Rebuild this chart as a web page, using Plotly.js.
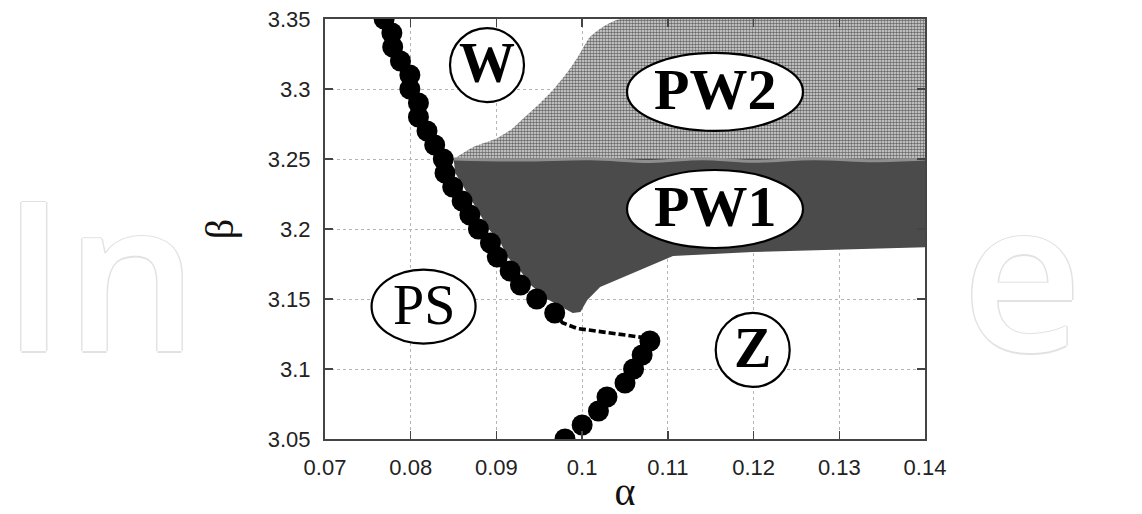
<!DOCTYPE html>
<html>
<head>
<meta charset="utf-8">
<script src="https://cdn.plot.ly/plotly-3.0.1.min.js"></script>
<style>html,body{margin:0;padding:0;background:#fff;}</style>
</head>
<body>
<div id="chart" style="width:1142px;height:514px;"></div>
<script>
// ---- data ----
const xTickVals = [0.07, 0.08, 0.09, 0.10, 0.11, 0.12, 0.13, 0.14];
const xTickText = ['0.07', '0.08', '0.09', '0.1', '0.11', '0.12', '0.13', '0.14'];
const yTickVals = [3.05, 3.10, 3.15, 3.20, 3.25, 3.30, 3.35];
const yTickText = ['3.05', '3.1', '3.15', '3.2', '3.25', '3.3', '3.35'];

// upper branch of the boundary (filled circles)
const alphaUpper = [0.0769, 0.0778, 0.0779, 0.0788, 0.0799, 0.0799, 0.0809, 0.0809, 0.0819, 0.0828, 0.0838,
                    0.0840, 0.0849, 0.0860, 0.0869, 0.0879, 0.0893, 0.0901, 0.0916, 0.0928, 0.0947, 0.0968];
const betaUpper  = [3.35, 3.34, 3.33, 3.32, 3.31, 3.30, 3.29, 3.28, 3.27, 3.26, 3.25,
                    3.24, 3.23, 3.22, 3.21, 3.20, 3.19, 3.18, 3.17, 3.16, 3.15, 3.14];
// lower branch (filled circles)
const alphaLower = [0.1079, 0.1070, 0.1060, 0.1050, 0.1029, 0.1019, 0.1000, 0.0980];
const betaLower  = [3.12, 3.11, 3.10, 3.09, 3.08, 3.07, 3.06, 3.05];
// dashed connection between the branches
const alphaDash = [0.0968, 0.0977, 0.0994, 0.1033, 0.1071, 0.1079];
const betaDash  = [3.14, 3.133, 3.129, 3.126, 3.1225, 3.12];

// region PW1 (dark grey)
const alphaPW1 = [0.0850, 0.14, 0.14, 0.1199, 0.1106, 0.1076, 0.1021, 0.1006, 0.0998, 0.0989,
                  0.0959, 0.0940, 0.0928, 0.0913, 0.0905, 0.0891, 0.0881, 0.0872, 0.0861, 0.0852, 0.0850];
const betaPW1  = [3.25, 3.25, 3.187, 3.1836, 3.1807, 3.1729, 3.1586, 3.1493, 3.1407, 3.14,
                  3.15, 3.16, 3.17, 3.18, 3.19, 3.20, 3.21, 3.22, 3.23, 3.24, 3.25];
// region PW2 (dotted grey)
const alphaPW2 = [0.0850, 0.0873, 0.0901, 0.0918, 0.0935, 0.0951, 0.0966, 0.0982, 0.0995, 0.1009, 0.1024, 0.1044, 0.14, 0.14];
const betaPW2  = [3.25, 3.2586, 3.265, 3.2715, 3.2810, 3.29, 3.2993, 3.3114, 3.3229, 3.3371, 3.3443, 3.35, 3.35, 3.25];
// light seam between PW2 and PW1
const alphaSeam = [0.0850, 0.093, 0.101, 0.108, 0.114, 0.120, 0.127, 0.134, 0.14];
const betaSeam  = [3.25, 3.2492, 3.2502, 3.2482, 3.2502, 3.2484, 3.2502, 3.2488, 3.25];

// region labels
const labelText  = ['W', 'PW2', 'PW1', 'PS', 'Z'];
const labelAlpha = [0.0889, 0.1155, 0.1155, 0.0815, 0.1199];
const labelBeta  = [3.3171, 3.2979, 3.2143, 3.1446, 3.1136];

// ---- styling ----
const labelBold  = [true, true, true, false, true];
const labelSize  = [56, 58, 58, 56, 56];
const labelRx    = [37, 88, 88, 52, 37];   // px
const labelRy    = [37, 39, 39, 37, 37];   // px

const traces = [
  {
    x: alphaPW2, y: betaPW2, type: 'scatter', mode: 'lines', fill: 'toself',
    line: {width: 0, color: 'rgba(0,0,0,0)', shape: 'spline', smoothing: 0.6},
    fillcolor: '#d8d8d8',
    fillpattern: {shape: '.', size: 3, solidity: 0.55, fgcolor: '#6a6a6a', bgcolor: '#dedede', fillmode: 'replace'},
    hoverinfo: 'skip', showlegend: false
  },
  {
    x: alphaPW1, y: betaPW1, type: 'scatter', mode: 'lines', fill: 'toself',
    line: {width: 0, color: 'rgba(0,0,0,0)'}, fillcolor: '#4b4b4b',
    hoverinfo: 'skip', showlegend: false
  },
  {
    x: alphaSeam, y: betaSeam, type: 'scatter', mode: 'lines',
    line: {width: 3, color: '#8e8e8e', shape: 'spline'},
    hoverinfo: 'skip', showlegend: false
  },
  {
    x: alphaDash, y: betaDash, type: 'scatter', mode: 'lines',
    line: {width: 3.6, color: '#000', dash: '7px,3px'},
    hoverinfo: 'skip', showlegend: false
  },
  {
    x: alphaUpper, y: betaUpper, type: 'scatter', mode: 'markers',
    marker: {size: 21, color: '#000', line: {width: 0}},
    showlegend: false
  },
  {
    x: alphaLower, y: betaLower, type: 'scatter', mode: 'markers',
    marker: {size: 21, color: '#000', line: {width: 0}},
    showlegend: false
  }
];

const shapes = labelText.map((t, i) => ({
  type: 'circle', layer: 'above',
  xref: 'x', yref: 'y', xsizemode: 'pixel', ysizemode: 'pixel',
  xanchor: labelAlpha[i], yanchor: labelBeta[i],
  x0: -labelRx[i], x1: labelRx[i], y0: -labelRy[i], y1: labelRy[i],
  fillcolor: '#fff', line: {color: '#000', width: 2.2}
}));

const annotations = labelText.map((t, i) => ({
  text: t, x: labelAlpha[i], y: labelBeta[i], xref: 'x', yref: 'y',
  showarrow: false, xanchor: 'center', yanchor: 'middle', yshift: 2,
  font: {family: 'Liberation Serif, Times New Roman, serif', size: labelSize[i], color: '#000',
         weight: labelBold[i] ? 'bold' : 'normal'}
}));

// faint publisher watermark behind the figure (only the parts outside the figure box show)
const wmShadow = '1.5px 0 0 #e2e2e2, -1.5px 0 0 #e2e2e2, 0 1.5px 0 #e2e2e2, 0 -1.5px 0 #e2e2e2';
const wmFont = {family: 'Open Sans, sans-serif', size: 208, color: '#ffffff', weight: 600, shadow: wmShadow};
annotations.push({
  text: 'In', xref: 'paper', yref: 'paper', x: -0.5417, y: 0.06, xanchor: 'left', yanchor: 'bottom',
  showarrow: false, font: wmFont
});
annotations.push({
  text: 'e', xref: 'paper', yref: 'paper', x: 1.058, y: 0.06, xanchor: 'left', yanchor: 'bottom',
  showarrow: false, font: wmFont
});

const axisCommon = {
  ticks: 'inside', ticklen: 8, tickwidth: 1.5, tickcolor: '#444',
  showline: true, linecolor: '#444', linewidth: 2, mirror: 'ticks',
  showgrid: true, gridcolor: '#b4b4b4', griddash: 'dot', gridwidth: 1,
  zeroline: false, tickmode: 'array',
  tickfont: {family: 'Liberation Sans, Arial, sans-serif', size: 22, color: '#222'}
};

const layout = {
  width: 1142, height: 514,
  margin: {l: 325, r: 217, t: 19, b: 75, pad: 0},
  paper_bgcolor: '#fff', plot_bgcolor: '#fff',
  showlegend: false,
  xaxis: Object.assign({}, axisCommon, {
    range: [0.07, 0.14], tickvals: xTickVals, ticktext: xTickText, ticklabelstandoff: 8,
    title: {text: 'α', font: {family: 'Liberation Serif, serif', size: 40, color: '#111'}, standoff: 4}
  }),
  yaxis: Object.assign({}, axisCommon, {
    range: [3.05, 3.35], tickvals: yTickVals, ticktext: yTickText, ticklabelstandoff: 8,
    title: {text: 'β', font: {family: 'Liberation Serif, serif', size: 40, color: '#111'}, standoff: 22}
  }),
  shapes: shapes,
  annotations: annotations
};

Plotly.newPlot('chart', traces, layout, {displayModeBar: false, staticPlot: true});
</script>
</body>
</html>
